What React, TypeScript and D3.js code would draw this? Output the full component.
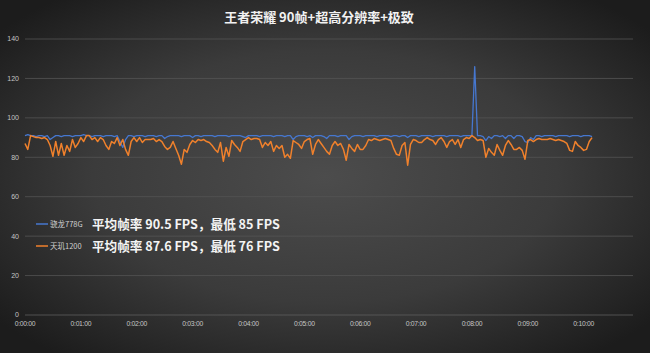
import React from "react";
import * as d3 from "d3";

// sampled every 3 seconds
const STEP_SEC = 3;

const seriesNames = ["骁龙778G", "天玑1200"];
const seriesColors = ["#4677cf", "#f0812c"];
const summaries = ["平均帧率 90.5 FPS，最低 85 FPS", "平均帧率 87.6 FPS，最低 76 FPS"];

const snapdragon = [
  91, 91.5, 91, 91, 90.5, 91, 91, 90.5, 91, 89, 90, 91,
  91, 90.5, 91, 91, 91, 90.5, 91, 91, 91, 91.5, 91, 91,
  90.5, 91, 91, 91, 90.5, 91, 91, 91, 90.5, 91, 88, 85,
  89, 91, 91, 90.5, 91, 91, 91, 90.5, 91, 91, 91, 90.5,
  91, 91, 89.5, 90.5, 91, 91, 91, 91, 90.5, 91, 91, 91,
  90, 91, 91, 90.5, 91, 91, 91, 91, 90.5, 91, 91, 91,
  91, 90.5, 91, 91, 91, 91, 90.5, 90, 91, 91, 91, 91,
  90.5, 91, 91, 91, 91, 90.5, 91, 91, 91, 90.5, 91, 91,
  89, 90.5, 91, 91, 91, 90.5, 91, 90, 91, 91, 91, 90.5,
  89.5, 91, 91, 91, 90.5, 91, 91, 91, 89, 90.5, 91, 91,
  91, 90.5, 91, 91, 91, 91, 90.5, 91, 91, 91, 91, 90.5,
  91, 91, 90.5, 91, 91, 90, 91, 91, 91, 90.5, 91, 91,
  91, 91, 90.5, 91, 91, 91, 91, 90.5, 91, 91, 91, 91,
  90.5, 91, 91, 91, 91, 126, 91, 91, 90.5, 88.5, 90.5, 89.5,
  91, 91, 90.5, 91, 89.5, 91, 91, 89.5, 91, 91, 90.5, 88,
  87.5, 90, 89, 91, 91, 90.5, 91, 91, 91, 91, 90.5, 91,
  91, 91, 91, 90.5, 91, 91, 91, 90.5, 91, 91, 91, 90.5,
];

const dimensity = [
  87, 84, 91, 90.5, 90, 90, 89.5, 90, 89, 86, 80.5, 88,
  81, 87, 81, 86, 83, 89, 85, 87, 90, 88, 91, 91,
  89, 90, 88, 90, 89, 86, 84, 88, 87, 90, 86, 89,
  84, 81, 88, 90, 88, 90,
  87.5, 89, 89, 89, 89.5, 88, 89, 88, 85.5, 84, 85, 88,
  84.5, 81, 76.5, 84, 82.5, 86.5, 88.5, 87.5, 89, 88.5, 89, 88,
  87.5, 86, 84, 82.5, 87.5, 78, 85, 80.5, 88.5, 86.5, 85, 83,
  88, 89, 90, 89, 89.5,
  89.5, 89, 85, 87.5, 86, 88, 83, 86, 84.5, 86, 80, 81.5,
  79.5, 88.5, 87.5, 86.5, 84.5, 88, 89, 89.5, 81.5, 86.5, 89, 87,
  85, 83, 81.5, 86, 88, 86, 87, 84, 78.5, 86.5, 84.5, 83,
  86.5, 84, 84, 86, 89,
  88.5, 89.5, 89, 88.5, 89, 89.5, 89, 88.5, 84.5, 81.5, 81, 86,
  87.5, 76, 86.5, 89, 88.5, 87.5, 87.5, 89, 90, 89, 88.5, 86.5,
  89, 90, 88, 85, 88, 89, 86.5, 89, 85, 89, 90, 89.5,
  91, 90, 88.5, 89, 88.5,
  80, 84.5, 82.5, 81, 86.5, 83.5, 81, 86, 88.5, 86.5, 84, 84,
  85, 83.5, 79, 88.5, 89, 88, 89, 89.5, 89, 89, 89, 89.5,
  89, 88.5, 89, 88.5, 88, 87, 83.5, 83, 88, 86, 85, 83.5,
  84, 88, 90,
];

const yTicks = [0, 20, 40, 60, 80, 100, 120, 140];
const xTicks = [0, 60, 120, 180, 240, 300, 360, 420, 480, 540, 600];

const W = 650;
const H = 353;

const fmtTime = (s: number) => `0:${String(Math.floor(s / 60)).padStart(2, "0")}:00`;

export default function App() {
  const x = d3.scaleLinear().domain([0, 653]).range([25, 633]);
  const y = d3.scaleLinear().domain([0, 140]).range([315, 39]);

  const line = d3
    .line<number>()
    .x((_, i) => x(i * STEP_SEC))
    .y((d) => y(d));

  const series = [snapdragon, dimensity];

  return (
    <svg
      width={W}
      height={H}
      style={{ position: "absolute", left: 0, top: 0 }}
      fontFamily="'Noto Sans CJK SC', 'Noto Sans', sans-serif"
    >
      <defs>
        <radialGradient id="bg" cx="50%" cy="50%" r="65%">
          <stop offset="0%" stopColor="#4c4c4c" />
          <stop offset="55%" stopColor="#3b3b3b" />
          <stop offset="100%" stopColor="#1c1c1c" />
        </radialGradient>
      </defs>
      <rect width={W} height={H} fill="url(#bg)" />

      <text
        x={319}
        y={22}
        textAnchor="middle"
        fill="#f2f2f2"
        fontSize={13}
        fontWeight="bold"
      >
        王者荣耀 90帧+超高分辨率+极致
      </text>

      {/* grid + y labels */}
      <g>
        {yTicks.map((t) => (
          <g key={t}>
            <line
              x1={25}
              x2={633}
              y1={y(t)}
              y2={y(t)}
              stroke={t === 0 ? "#5e5e5e" : "#545454"}
              strokeWidth={0.8}
            />
            <text
              x={19}
              y={y(t)}
              dy="0.35em"
              textAnchor="end"
              fontSize={7}
              fill="#c4c4c4"
              fontFamily="'Liberation Sans', sans-serif"
            >
              {t}
            </text>
          </g>
        ))}
      </g>

      {/* x labels */}
      <g>
        {xTicks.map((t) => (
          <text
            key={t}
            x={x(t)}
            y={326}
            textAnchor="middle"
            fontSize={6.8}
            letterSpacing={-0.3}
            fill="#c4c4c4"
            fontFamily="'Liberation Sans', sans-serif"
          >
            {fmtTime(t)}
          </text>
        ))}
      </g>

      {series.map((s, k) => (
        <path
          key={k}
          d={line(s) ?? ""}
          fill="none"
          stroke={seriesColors[k]}
          strokeWidth={k === 0 ? 1.3 : 1.5}
          strokeLinejoin="round"
        />
      ))}

      {/* legend */}
      {seriesNames.map((name, k) => {
        const ly = 224 + k * 22;
        return (
          <g key={name}>
            <line x1={36} x2={48} y1={ly} y2={ly} stroke={seriesColors[k]} strokeWidth={1.5} />
            <text x={50} y={ly} dy="0.35em" fontSize={7.5} fill="#d0d0d0">
              {name}
            </text>
            <text x={92} y={ly} dy="0.36em" fontSize={12.6} fontWeight="bold" fill="#f4f4f4">
              {summaries[k]}
            </text>
          </g>
        );
      })}
    </svg>
  );
}
